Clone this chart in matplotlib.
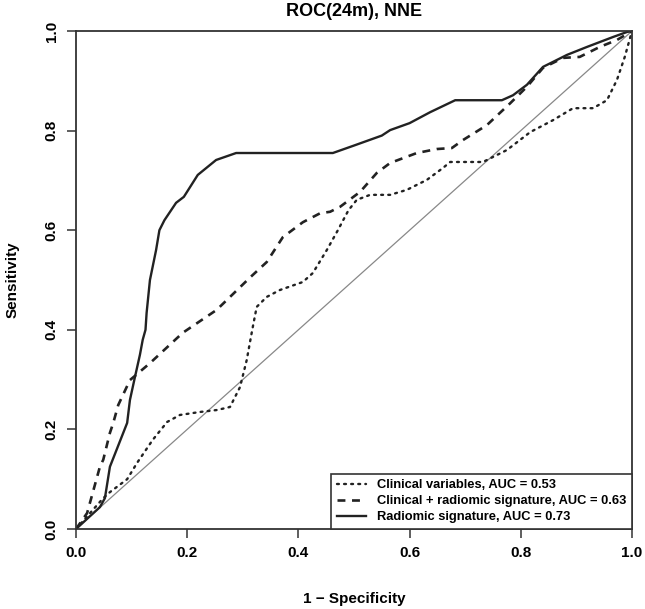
import numpy as np
import matplotlib.pyplot as plt

plt.rcParams['font.family'] = ['Liberation Sans', 'DejaVu Sans']
plt.rcParams['font.weight'] = 'bold'

# ROC curves (x = 1 - specificity, y = sensitivity)
clin_fpr = [0.0, 0.049, 0.061, 0.092, 0.110, 0.138, 0.164, 0.187, 0.223, 0.254, 0.277,
            0.295, 0.307, 0.317, 0.325, 0.343, 0.367, 0.408, 0.426, 0.451, 0.471, 0.490,
            0.505, 0.529, 0.565, 0.595, 0.631, 0.660, 0.673, 0.732, 0.775, 0.817, 0.858,
            0.894, 0.930, 0.955, 0.973, 0.987, 1.0]
clin_tpr = [0.0, 0.062, 0.074, 0.100, 0.133, 0.179, 0.215, 0.229, 0.235, 0.239, 0.245,
            0.285, 0.339, 0.400, 0.446, 0.466, 0.480, 0.496, 0.514, 0.560, 0.600, 0.640,
            0.661, 0.671, 0.671, 0.681, 0.701, 0.725, 0.737, 0.737, 0.761, 0.797, 0.821,
            0.845, 0.845, 0.861, 0.902, 0.948, 1.0]

comb_fpr = [0.0, 0.020, 0.043, 0.049, 0.061, 0.067, 0.076, 0.097, 0.133, 0.192, 0.253,
            0.313, 0.343, 0.372, 0.408, 0.439, 0.457, 0.475, 0.511, 0.541, 0.565, 0.613,
            0.649, 0.676, 0.696, 0.739, 0.781, 0.811, 0.840, 0.876, 0.906, 0.942, 0.973, 1.0]
comb_tpr = [0.0, 0.032, 0.125, 0.139, 0.193, 0.213, 0.249, 0.299, 0.333, 0.394, 0.440,
            0.505, 0.536, 0.586, 0.616, 0.634, 0.637, 0.647, 0.677, 0.715, 0.735, 0.755,
            0.763, 0.765, 0.781, 0.811, 0.855, 0.888, 0.926, 0.946, 0.948, 0.968, 0.982, 1.0]

rad_fpr = [0.0, 0.043, 0.052, 0.061, 0.092, 0.097, 0.105, 0.115, 0.120, 0.125, 0.127,
           0.133, 0.144, 0.150, 0.159, 0.180, 0.194, 0.219, 0.252, 0.288, 0.462, 0.500,
           0.550, 0.565, 0.600, 0.637, 0.682, 0.766, 0.786, 0.811, 0.840, 0.858, 0.883,
           0.919, 0.966, 0.991, 1.0]
rad_tpr = [0.0, 0.044, 0.062, 0.125, 0.213, 0.259, 0.300, 0.350, 0.380, 0.400, 0.434,
           0.500, 0.560, 0.600, 0.620, 0.655, 0.667, 0.711, 0.741, 0.755, 0.755, 0.770,
           0.790, 0.801, 0.815, 0.837, 0.861, 0.861, 0.871, 0.892, 0.928, 0.938, 0.952,
           0.968, 0.988, 0.998, 1.0]

labels = ['Clinical variables, AUC = 0.53',
          'Clinical + radiomic signature, AUC = 0.63',
          'Radiomic signature, AUC = 0.73']
ticks = [0.0, 0.2, 0.4, 0.6, 0.8, 1.0]

fig = plt.figure(figsize=(6.45, 6.09), dpi=100)
ax = fig.add_axes([76 / 645, 80 / 609, 556 / 645, 498 / 609])

ax.plot([0, 1], [0, 1], color='#888888', lw=0.9)
ax.plot(clin_fpr, clin_tpr, color='#222222', lw=1.7, ls=(0, (0.8, 2.2)),
        dash_capstyle='round', label=labels[0])
ax.plot(comb_fpr, comb_tpr, color='#222222', lw=1.9, ls=(0, (3, 2.5)), label=labels[1])
ax.plot(rad_fpr, rad_tpr, color='#222222', lw=1.7, label=labels[2])

ax.set_xlim(0, 1)
ax.set_ylim(0, 1)
ax.set_xticks(ticks)
ax.set_yticks(ticks)
ax.set_xticklabels(['%.1f' % t for t in ticks], fontsize=11, fontweight='bold')
ax.set_yticklabels(['%.1f' % t for t in ticks], fontsize=11, fontweight='bold',
                   rotation=90, va='center')
ax.tick_params(direction='out', length=6.5, width=1.1, colors='#333333', pad=6)
ax.tick_params(axis='x', labelcolor='black')
ax.tick_params(axis='y', labelcolor='black')
for s in ax.spines.values():
    s.set_color('#333333')
    s.set_linewidth(1.3)

ax.set_title('ROC(24m), NNE', fontsize=13, fontweight='bold', pad=11)
ax.set_xlabel('1 \u2212 Specificity', fontsize=11, fontweight='bold', labelpad=23)
ax.set_ylabel('Sensitivity', fontsize=11, fontweight='bold', labelpad=18)

leg = ax.legend(loc='lower right', bbox_to_anchor=(1, 0), borderaxespad=0,
                fancybox=False, framealpha=1, edgecolor='#333333',
                prop={'size': 9.3, 'weight': 'bold'}, handlelength=2.3,
                labelspacing=0.3, borderpad=0.45)
leg.get_frame().set_linewidth(1.2)

fig.savefig('out.png', dpi=100)
